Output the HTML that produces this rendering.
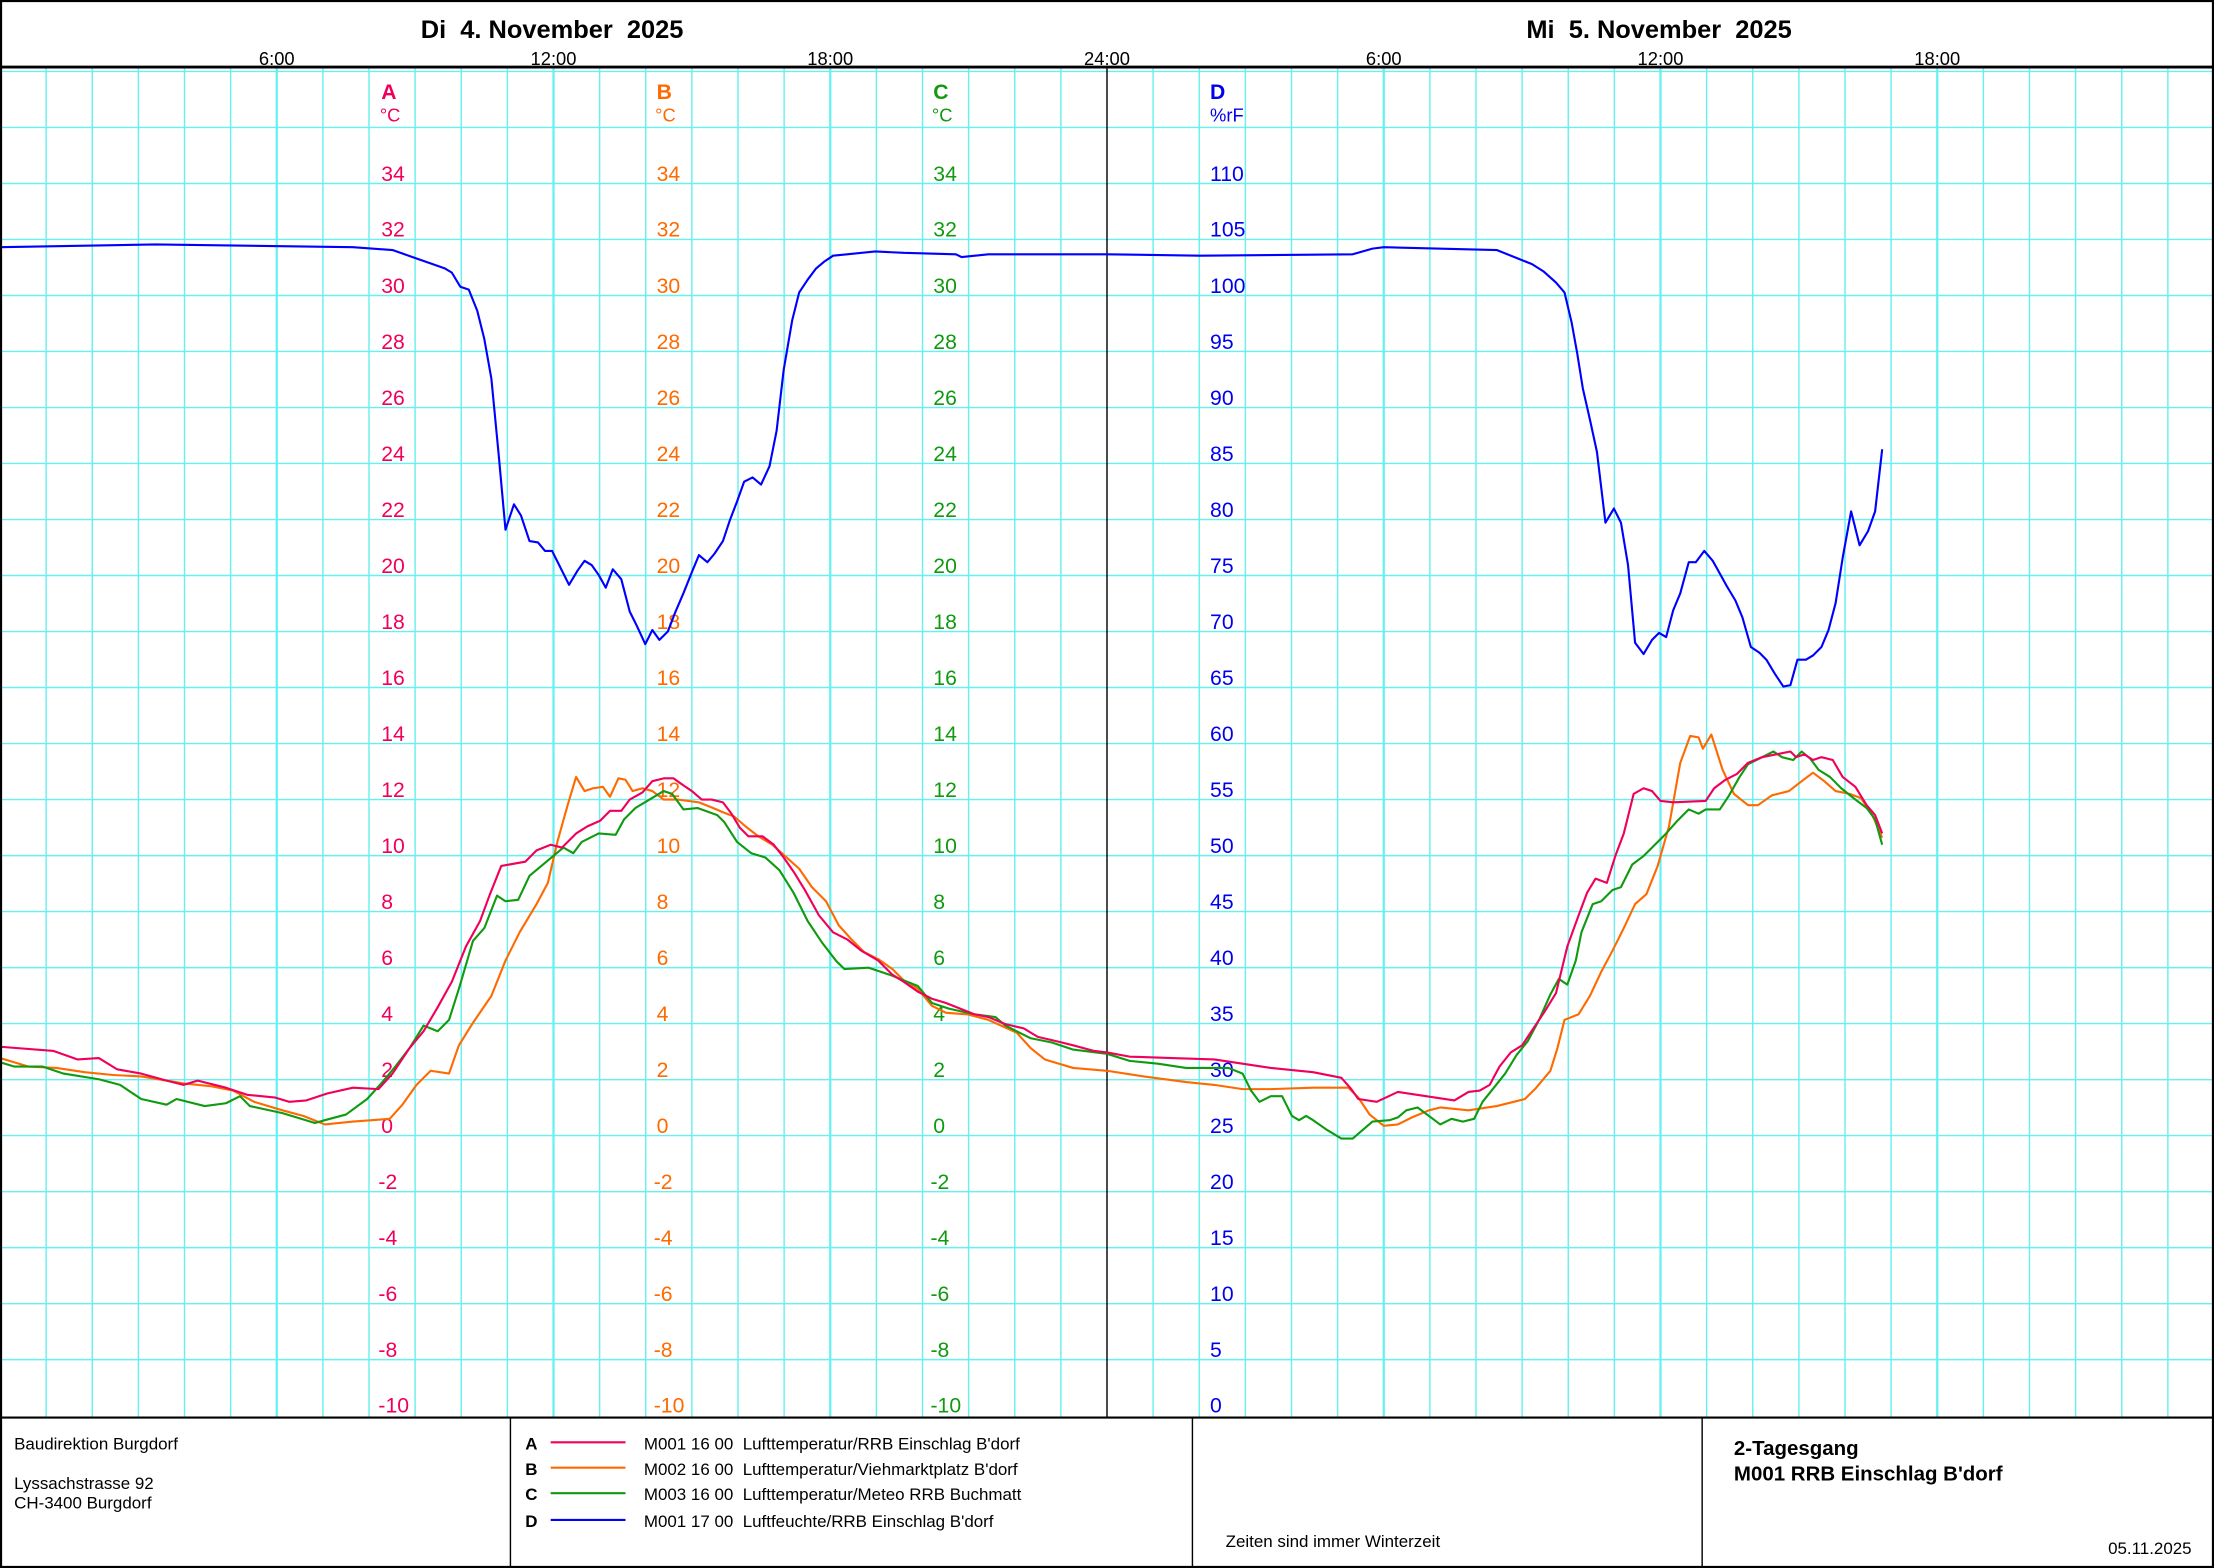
<!DOCTYPE html>
<html><head><meta charset="utf-8"><style>html,body{margin:0;padding:0;background:#fff}svg{display:block}</style></head><body>
<svg width="2214" height="1568" viewBox="0 0 1568 1110" preserveAspectRatio="none" xmlns="http://www.w3.org/2000/svg" font-family="Liberation Sans, Arial, sans-serif">
<rect x="0" y="0" width="1568" height="1110" fill="#fff"/>
<g id="grid" stroke="#5ff5f5" stroke-width="1">
<script type="text/javascript">/* static */</script>
</g>
<g stroke="#66f0f0" stroke-width="1">
<path d="M32.67 48V1003M65.33 48V1003M98 48V1003M130.67 48V1003M163.33 48V1003M228.67 48V1003M261.33 48V1003M294 48V1003M326.67 48V1003M359.33 48V1003M424.67 48V1003M457.33 48V1003M490 48V1003M522.67 48V1003M555.33 48V1003M620.67 48V1003M653.33 48V1003M686 48V1003M718.67 48V1003M751.33 48V1003M816.67 48V1003M849.33 48V1003M882 48V1003M914.67 48V1003M947.33 48V1003M1012.67 48V1003M1045.33 48V1003M1078 48V1003M1110.67 48V1003M1143.33 48V1003M1208.67 48V1003M1241.33 48V1003M1274 48V1003M1306.67 48V1003M1339.33 48V1003M1404.67 48V1003M1437.33 48V1003M1470 48V1003M1502.67 48V1003M1535.33 48V1003"/>
<path stroke-width="1.6" d="M196 48V1003M392 48V1003M588 48V1003M980 48V1003M1176 48V1003M1372 48V1003"/>
<path d="M0 50.6H1568M0 90.2H1568M0 129.9H1568M0 169.5H1568M0 209.2H1568M0 248.8H1568M0 288.5H1568M0 328.1H1568M0 367.8H1568M0 407.4H1568M0 447.1H1568M0 486.7H1568M0 526.4H1568M0 566H1568M0 605.7H1568M0 645.3H1568M0 685H1568M0 724.6H1568M0 764.3H1568M0 803.9H1568M0 843.6H1568M0 883.2H1568M0 922.9H1568M0 962.5H1568"/>
</g>
<line x1="784" y1="47" x2="784" y2="1003" stroke="#000" stroke-width="1"/>
<!-- header -->
<line x1="0" y1="47.5" x2="1568" y2="47.5" stroke="#000" stroke-width="2"/>
<g font-weight="bold" font-size="18" text-anchor="middle">
<text x="391" y="27" xml:space="preserve">Di  4. November  2025</text>
<text x="1175" y="27" xml:space="preserve">Mi  5. November  2025</text>
</g>
<g font-size="13" text-anchor="middle">
<text x="196" y="46">6:00</text><text x="392" y="46">12:00</text><text x="588" y="46">18:00</text><text x="784" y="46">24:00</text><text x="980" y="46">6:00</text><text x="1176" y="46">12:00</text><text x="1372" y="46">18:00</text>
</g>
<!-- axis labels -->
<g font-size="15">
<g fill="#f0005a"><text x="270" y="70" font-weight="bold">A</text><text x="269" y="86" font-size="13">°C</text>
<text x="270" y="128">34</text><text x="270" y="167.6">32</text><text x="270" y="207.3">30</text><text x="270" y="246.9">28</text><text x="270" y="286.6">26</text><text x="270" y="326.2">24</text><text x="270" y="365.9">22</text><text x="270" y="405.5">20</text><text x="270" y="445.2">18</text><text x="270" y="484.8">16</text><text x="270" y="524.5">14</text><text x="270" y="564.1">12</text><text x="270" y="603.8">10</text><text x="270" y="643.4">8</text><text x="270" y="683.1">6</text><text x="270" y="722.7">4</text><text x="270" y="762.4">2</text><text x="270" y="802">0</text><text x="268" y="841.7">-2</text><text x="268" y="881.3">-4</text><text x="268" y="921">-6</text><text x="268" y="960.6">-8</text><text x="268" y="1000">-10</text></g>
<g fill="#ff6a00"><text x="465" y="70" font-weight="bold">B</text><text x="464" y="86" font-size="13">°C</text>
<text x="465" y="128">34</text><text x="465" y="167.6">32</text><text x="465" y="207.3">30</text><text x="465" y="246.9">28</text><text x="465" y="286.6">26</text><text x="465" y="326.2">24</text><text x="465" y="365.9">22</text><text x="465" y="405.5">20</text><text x="465" y="445.2">18</text><text x="465" y="484.8">16</text><text x="465" y="524.5">14</text><text x="465" y="564.1">12</text><text x="465" y="603.8">10</text><text x="465" y="643.4">8</text><text x="465" y="683.1">6</text><text x="465" y="722.7">4</text><text x="465" y="762.4">2</text><text x="465" y="802">0</text><text x="463" y="841.7">-2</text><text x="463" y="881.3">-4</text><text x="463" y="921">-6</text><text x="463" y="960.6">-8</text><text x="463" y="1000">-10</text></g>
<g fill="#109a10"><text x="661" y="70" font-weight="bold">C</text><text x="660" y="86" font-size="13">°C</text>
<text x="661" y="128">34</text><text x="661" y="167.6">32</text><text x="661" y="207.3">30</text><text x="661" y="246.9">28</text><text x="661" y="286.6">26</text><text x="661" y="326.2">24</text><text x="661" y="365.9">22</text><text x="661" y="405.5">20</text><text x="661" y="445.2">18</text><text x="661" y="484.8">16</text><text x="661" y="524.5">14</text><text x="661" y="564.1">12</text><text x="661" y="603.8">10</text><text x="661" y="643.4">8</text><text x="661" y="683.1">6</text><text x="661" y="722.7">4</text><text x="661" y="762.4">2</text><text x="661" y="802">0</text><text x="659" y="841.7">-2</text><text x="659" y="881.3">-4</text><text x="659" y="921">-6</text><text x="659" y="960.6">-8</text><text x="659" y="1000">-10</text></g>
<g fill="#0000ee"><text x="857" y="70" font-weight="bold">D</text><text x="857" y="86" font-size="13">%rF</text>
<text x="857" y="128">110</text><text x="857" y="167.6">105</text><text x="857" y="207.3">100</text><text x="857" y="246.9">95</text><text x="857" y="286.6">90</text><text x="857" y="326.2">85</text><text x="857" y="365.9">80</text><text x="857" y="405.5">75</text><text x="857" y="445.2">70</text><text x="857" y="484.8">65</text><text x="857" y="524.5">60</text><text x="857" y="564.1">55</text><text x="857" y="603.8">50</text><text x="857" y="643.4">45</text><text x="857" y="683.1">40</text><text x="857" y="722.7">35</text><text x="857" y="762.4">30</text><text x="857" y="802">25</text><text x="857" y="841.7">20</text><text x="857" y="881.3">15</text><text x="857" y="921">10</text><text x="857" y="960.6">5</text><text x="857" y="1000">0</text></g>
</g>
<!-- series -->
<g fill="none" stroke-width="1.5" stroke-linejoin="round">
<polyline stroke="#0000ff" points="0,175 110,173 250,175 278,177 295,183 315,190 320,193 326,203 332,205 338,220 343,240 348,268 353,320 358,375 364,357 369,365 375,383 381,384 386,390 391,390 397,402 403,414 409,404 414,397 419,400 424,407 429,416 434,403 440,410 446,433 451,443 457,456 462,446 467,453 473,447 478,434 484,420 490,405 495,393 501,398 506,392 512,383 517,368 522,355 527,341 533,338 539,343 545,330 550,305 555,262 561,227 566,207 572,198 578,190 584,185 590,181 600,180 620,178 640,179 677,180 681,182 700,180 784,180 850,181 958,180 972,176 980,175 1060,177 1075,183 1085,187 1093,192 1102,200 1108,207 1113,228 1117,250 1121,275 1126,297 1131,320 1137,370 1143,360 1148,370 1153,400 1158,455 1164,463 1170,453 1175,448 1180,451 1185,432 1190,420 1196,398 1201,398 1207,390 1213,397 1218,406 1223,415 1229,425 1234,437 1240,458 1246,462 1251,467 1257,477 1263,486 1268,485 1273,467 1279,467 1284,464 1290,458 1295,446 1300,427 1305,395 1311,362 1317,386 1323,376 1328,362 1333,318"/>
<polyline stroke="#ff6a00" points="0,749 20,755 40,756 60,759 80,761 100,762 130,767 150,769 165,772 180,780 200,786 215,790 230,796 250,794 276,792 285,782 295,768 305,758 318,760 325,740 335,724 348,705 358,680 368,660 380,640 388,625 395,595 402,570 408,550 414,560 420,558 427,557 432,564 438,551 443,552 448,560 455,558 462,560 470,566 480,566 495,568 505,572 512,575 520,578 528,585 537,592 547,598 556,606 566,615 575,628 585,638 594,655 603,665 612,674 622,679 632,686 640,694 650,700 660,712 670,717 685,718 700,722 720,731 730,742 740,750 760,756 784,758 810,762 840,766 860,768 880,771 900,771 930,770 955,770 962,777 970,789 980,797 990,796 1000,791 1012,786 1020,784 1040,786 1060,783 1080,778 1088,770 1098,758 1103,742 1108,722 1118,718 1126,705 1134,688 1142,673 1150,657 1158,640 1166,633 1174,613 1182,585 1190,540 1197,521 1203,522 1206,530 1212,520 1220,545 1228,562 1238,570 1245,570 1255,563 1267,560 1276,553 1284,547 1292,553 1300,560 1310,562 1318,565 1326,577 1333,593"/>
<polyline stroke="#109a10" points="0,752 10,755 30,755 45,760 70,764 85,768 100,778 118,782 125,778 145,783 160,781 170,776 177,783 200,788 210,791 223,795 230,793 245,789 260,778 270,767 280,755 290,742 300,726 310,730 318,722 325,700 335,666 343,657 352,634 358,638 367,637 375,620 387,610 399,600 406,604 412,596 424,590 436,591 442,580 450,572 460,566 470,560 476,562 484,573 494,572 508,577 513,582 522,596 532,604 542,607 552,616 562,632 572,652 582,667 592,680 598,686 615,685 630,690 650,698 660,710 672,714 690,718 705,720 712,726 730,735 745,738 760,743 784,746 800,751 820,753 840,756 870,756 880,760 886,772 892,780 900,776 908,776 915,790 920,793 925,790 930,793 940,800 950,806 958,806 965,800 972,794 984,793 990,791 996,786 1004,784 1012,790 1020,796 1028,792 1036,794 1044,792 1050,780 1058,770 1066,760 1074,747 1082,737 1090,722 1098,704 1104,693 1110,697 1116,680 1120,660 1128,640 1134,638 1142,630 1148,628 1156,612 1164,606 1172,598 1180,590 1188,581 1196,573 1203,576 1208,573 1218,573 1224,564 1232,550 1238,541 1248,536 1256,532 1262,536 1270,538 1276,532 1282,537 1288,545 1296,550 1304,558 1314,566 1322,572 1328,580 1333,598"/>
<polyline stroke="#f0005a" points="0,741 38,744 55,750 70,749 83,757 100,760 118,765 130,768 140,765 160,770 175,775 195,777 205,780 217,779 232,774 250,770 268,771 278,760 290,742 300,730 310,713 320,695 330,670 340,652 347,633 355,613 372,610 380,602 390,598 398,600 408,590 416,585 425,581 432,574 440,574 446,566 455,561 462,553 470,551 477,551 484,556 490,560 497,566 504,566 512,568 518,576 524,586 530,592 540,592 548,598 555,607 562,617 570,630 580,648 590,660 600,665 610,673 622,680 632,690 640,695 650,702 660,707 670,710 680,714 690,718 700,720 712,725 725,728 735,734 748,737 760,740 775,744 784,745 800,748 830,749 860,750 880,753 900,756 930,759 950,763 957,771 962,778 975,780 990,773 1010,776 1030,779 1040,773 1048,772 1055,768 1062,755 1070,745 1078,740 1086,728 1094,716 1102,703 1110,670 1118,648 1124,632 1130,622 1138,625 1144,606 1150,590 1157,562 1164,558 1170,560 1176,567 1185,568 1208,567 1214,558 1222,552 1230,548 1238,540 1248,536 1258,534 1268,532 1272,536 1278,534 1284,538 1290,536 1298,538 1305,550 1314,557 1322,570 1328,577 1333,590"/>
</g>
<!-- footer -->
<rect x="0" y="1003" width="1568" height="107" fill="#fff"/>
<line x1="0" y1="1003.5" x2="1568" y2="1003.5" stroke="#000" stroke-width="1.5"/>
<path d="M361.5 1003V1110M844.5 1003V1110M1205.5 1003V1110" stroke="#000" stroke-width="1"/>
<g font-size="12">
<text x="10" y="1026">Baudirektion Burgdorf</text>
<text x="10" y="1054">Lyssachstrasse 92</text>
<text x="10" y="1068">CH-3400 Burgdorf</text>
<g font-weight="bold"><text x="372" y="1026">A</text><text x="372" y="1044">B</text><text x="372" y="1062">C</text><text x="372" y="1081">D</text></g>
<line x1="390" y1="1021" x2="443" y2="1021" stroke="#f0005a" stroke-width="1.5"/>
<line x1="390" y1="1039" x2="443" y2="1039" stroke="#ff6a00" stroke-width="1.5"/>
<line x1="390" y1="1057" x2="443" y2="1057" stroke="#109a10" stroke-width="1.5"/>
<line x1="390" y1="1076" x2="443" y2="1076" stroke="#0000ff" stroke-width="1.5"/>
<text x="456" y="1026" xml:space="preserve">M001 16 00  Lufttemperatur/RRB Einschlag B'dorf</text>
<text x="456" y="1044" xml:space="preserve">M002 16 00  Lufttemperatur/Viehmarktplatz B'dorf</text>
<text x="456" y="1062" xml:space="preserve">M003 16 00  Lufttemperatur/Meteo RRB Buchmatt</text>
<text x="456" y="1081" xml:space="preserve">M001 17 00  Luftfeuchte/RRB Einschlag B'dorf</text>
<text x="868" y="1095">Zeiten sind immer Winterzeit</text>
<text x="1493" y="1100">05.11.2025</text>
<text x="1228" y="1030" font-size="14.5" font-weight="bold">2-Tagesgang</text>
<text x="1228" y="1048" font-size="14.5" font-weight="bold">M001 RRB Einschlag B'dorf</text>
</g>
<rect x="0.75" y="0.75" width="1566.5" height="1108.5" fill="none" stroke="#000" stroke-width="1.5"/>
</svg>
</body></html>
